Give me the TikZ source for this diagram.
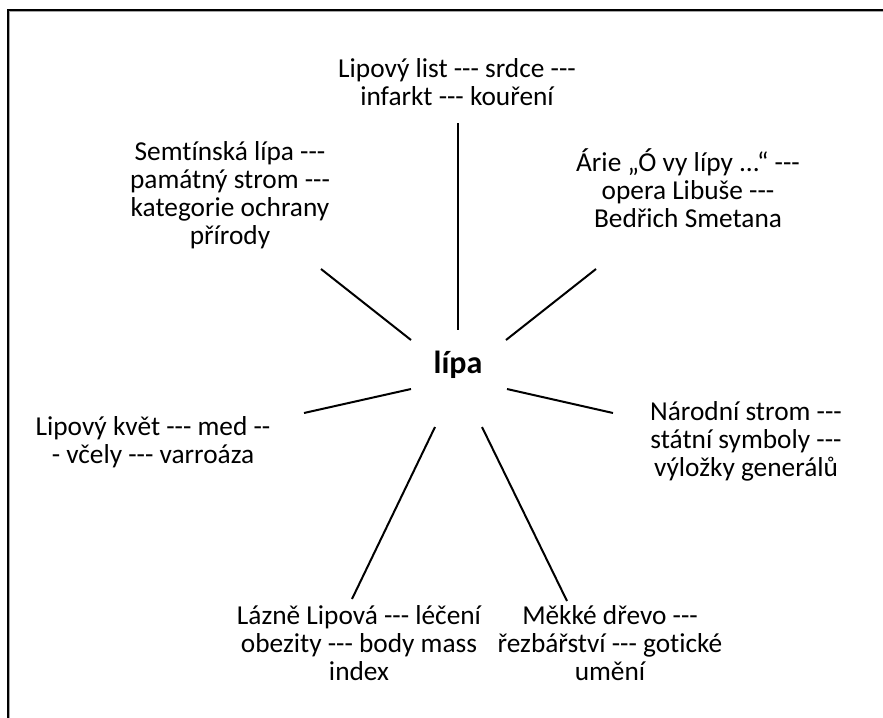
\documentclass[tikz,border=0pt]{standalone}
\usepackage{fontspec}
\setmainfont{Carlito}[Ligatures={TeXOff,CommonOff}]
\begin{document}
\begin{tikzpicture}[x=0.75pt,y=-0.75pt,
  topic/.style={align=center,inner sep=0pt,font=\fontsize{20.5}{21}\selectfont},
  hub/.style={inner sep=0pt,font=\fontsize{24}{24}\selectfont\bfseries},
  spoke/.style={line width=1.5pt,black}]
\useasboundingbox (0,0) rectangle (883,718);
\clip (0,0) rectangle (883,718);
% page frame (only the top and left edges fall inside the picture)
\draw[gray!70,line width=1pt] (9.5,11.5) rectangle (900,740);
\draw[black,line width=1.5pt] (8,9.5) rectangle (900,740);

% central word
\node[hub] (lipa) at (458,365) {lípa};

% surrounding associations
\node[topic] (top) at (457,82) {Lipový list --- srdce ---\\infarkt --- kouření};
\node[topic] (ul) at (230,195) {Semtínská lípa ---\\památný strom ---\\kategorie ochrany\\přírody};
\node[topic] (ur) at (688,188) {Árie „Ó vy lípy ...“ ---\\opera Libuše ---\\Bedřich Smetana};
\node[topic] (le) at (153,442) {Lipový květ --- med --\\- včely --- varroáza};
\node[topic] (ri) at (746,441) {Národní strom ---\\státní symboly ---\\výložky generálů};
\node[topic] (ll) at (359,643) {Lázně Lipová --- léčení\\obezity --- body mass\\index};
\node[topic] (lr) at (610,643) {Měkké dřevo ---\\řezbářství --- gotické\\umění};

% spoke end points
\coordinate (tA) at (458,123);  \coordinate (tB) at (458,330);
\coordinate (ulA) at (321,269); \coordinate (ulB) at (411,340);
\coordinate (urA) at (596,269); \coordinate (urB) at (506,340);
\coordinate (leA) at (304,413); \coordinate (leB) at (411,389);
\coordinate (riA) at (613,413); \coordinate (riB) at (507,389);
\coordinate (llA) at (352,599); \coordinate (llB) at (435,427);
\coordinate (lrA) at (567,601); \coordinate (lrB) at (482,427);

\draw[spoke] (tA) -- (tB);
\draw[spoke] (ulA) -- (ulB);
\draw[spoke] (urA) -- (urB);
\draw[spoke] (leA) -- (leB);
\draw[spoke] (riA) -- (riB);
\draw[spoke] (llA) -- (llB);
\draw[spoke] (lrA) -- (lrB);
\end{tikzpicture}
\end{document}
